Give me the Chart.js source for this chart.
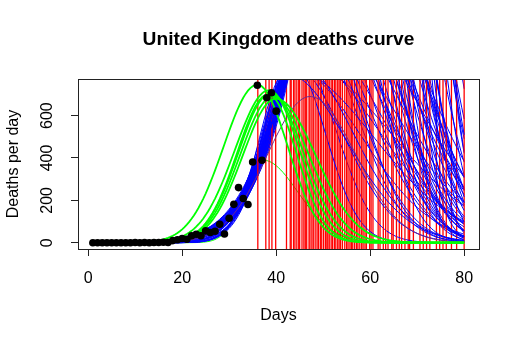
<!DOCTYPE html>
<html>
<head>
<meta charset="utf-8">
<script src="https://cdn.jsdelivr.net/npm/chart.js@4/dist/chart.umd.min.js"></script>
<style>html,body{margin:0;padding:0;background:#fff}canvas{display:block}</style>
</head>
<body>
<canvas id="c" width="520" height="347" style="width:520px;height:347px"></canvas>
<script>
// ---- observed data ----
const days = [1,2,3,4,5,6,7,8,9,10,11,12,13,14,15,16,17,18,19,20,21,22,23,24,25,26,27,28,29,30,31,32,33,34,35,36,37,38,39,40];
const deaths = [0,0,0,0,0,0,0,0,0,1,0,1,0,1,1,2,1,10,14,20,16,33,40,33,56,48,54,87,41,115,181,260,209,180,381,743,389,684,708,621];

// ---- axis ticks ----
const xTicks = [0,20,40,60,80];
const yTicks = [0,200,400,600];

// ---- peak days (red vertical lines) ----
const peakDays = [36.1,37.8,38.5,39.1,39.9,42.2,43.0,43.2,43.7,44.0,44.4,44.8,45.0,45.5,45.9,46.2,46.5,47.0,47.2,47.6,47.9,48.3,48.7,49.0,49.4,49.7,50.1,50.5,50.8,51.0,51.3,51.7,52.0,52.4,52.7,53.1,53.4,53.7,54.1,54.6,55.0,55.3,55.7,56.0,56.3,56.7,57.1,57.4,57.8,58.2,58.5,58.9,59.2,59.9,60.2,60.6,61.7,62.1,62.8,63.3,63.8,64.6,64.9,65.6,66.2,66.7,67.4,68.1,68.4,69.2,70.6,71.3,72.0,72.7,74.1,74.8,75.5,76.2,77.3,78.4,80.0];

// ---- fitted curves that peak early (green): height, peak day, rise width, fall width ----
const greenPeak    = [746,700,705,690,680,720];
const greenPeakDay = [36.0,38.3,38.8,39.3,39.9,38.5];
const greenRise    = [7.2,6.6,6.8,6.9,7.0,7.3];
const greenFall    = [6.5,6.0,7.0,7.6,8.5,6.5];

// thin green curve
const thinGreenPeak = [390], thinGreenPeakDay = [37.2], thinGreenRise = [4], thinGreenFall = [7.5];
// thin purple curve
const purplePeak = [690], purplePeakDay = [47.2], purpleRise = [9], purpleFall = [9.7];

// ---- fitted curves that peak later (blue): height, peak day, rise width, fall width ----
const bluePeak = [800,830,860,900,850,880,820,870,840, 1000,1050,1100,1150,1200,1300,1020,1120,1250,1000,1050,1100,1150,1200,1300, 1400,1450,1500,1600,1700,1800,1900,2000,1420,1550,1650,1750,1950,1480,1400,1500,1600,1700,1800,1900,1450,1550, 2200,2400,2600,2800,3000,3300,3600,3000,2300,2500,2700,3100,2200,2400,2600,2800,3000, 4000,4500,5000,6000,7000,8000,10000,12000,4200,5500,9000,15000];
const bluePeakDay = [41.9,43.1,44.3,44.3,43.5,44.7,42.8,44.0,43.3, 47.2,47.8,48.5,49.6,50.4,52.6,47.5,48.9,51.4,47.2,47.8,48.5,49.6,50.4,52.6, 52.5,53.2,53.6,54.7,55.0,56.2,57.6,58.0,52.8,54.2,55.1,55.8,57.7,53.4,52.5,53.6,54.7,55.0,56.2,57.6,53.2,54.2, 59.2,60.8,61.7,63.2,64.1,65.8,66.6,64.0,60.0,61.2,62.5,64.8,59.2,60.8,61.7,63.2,64.1, 68.3,69.9,71.5,74.0,76.3,77.9,81.2,84.9,69.0,72.8,79.6,88.0];
const blueRise = [5.55,6.0,6.42,7.0,6.32,6.49,5.9,6.4,6.2, 8.0,7.92,9.03,8.59,9.56,10.17,8.2,8.8,9.8,8.0,7.92,9.03,8.59,9.56,10.17, 10.42,10.28,10.61,10.59,11.22,11.3,11.36,12.14,10.3,10.7,10.9,11.1,11.9,10.4,10.42,10.61,10.59,11.22,11.3,11.36,10.28,10.7, 12.17,12.92,12.64,13.75,13.6,13.74,14.27,14.02,12.5,12.8,13.2,13.9,12.17,12.92,12.64,13.75,13.6, 14.65,15.29,15.17,16.01,16.74,16.63,17.57,18.08,15.0,15.6,17.3,18.8];
const blueFall = [13,15,12,17,7,8,18,20,11, 10,12,9.5,13,11,10,10.5,11.5,10.5,15,17,14,16,18,15, 12,10.5,13,11,9.5,12,8.5,10,11.5,10,12.5,10.5,11,9.5,15,16,14,13.5,8,7.5,8,8.5, 9,10,8,9,7.5,7,6.5,9.5,9.5,8.5,10,8,6.5,7,6,6.5,5.5, 8,8,9,9,9,9,9,9,8,9,9,9];

// ---- build ----
const curveDays = [];
for (let t = 1; t <= 80.0001; t += 0.5) curveDays.push(t);

function curve(A, mu, sL, sR) {
  return curveDays.map(t => {
    const s = t < mu ? sL : sR;
    return { x: t, y: A * Math.exp(-(t - mu) * (t - mu) / (2 * s * s)) };
  });
}
function lineDs(data, color, width) {
  return { type: 'line', data, borderColor: color, borderWidth: width, pointRadius: 0, pointHitRadius: 0, fill: false, tension: 0 };
}

const datasets = [];
// top-most first
datasets.push({
  type: 'line', data: days.map((d, i) => ({ x: d, y: deaths[i] })), showLine: false,
  pointRadius: 3.8, pointBackgroundColor: '#000', pointBorderWidth: 0, borderColor: '#000'
});
for (let i = 0; i < greenPeak.length; i++)
  datasets.push(lineDs(curve(greenPeak[i], greenPeakDay[i], greenRise[i], greenFall[i]), '#00ff00', 1.8));
datasets.push(lineDs(curve(purplePeak[0], purplePeakDay[0], purpleRise[0], purpleFall[0]), 'rgb(110,40,140)', 1));

const nMix = Math.max(bluePeak.length, peakDays.length);
for (let i = 0; i < nMix; i++) {
  if (i < peakDays.length) {
    const j = (i * 7) % peakDays.length;
    datasets.push(lineDs([{ x: peakDays[j], y: -100 }, { x: peakDays[j], y: 2000 }], '#ff0000', 1.3));
  }
  if (i < bluePeak.length) {
    const k = (i * 11) % bluePeak.length;
    datasets.push(lineDs(curve(bluePeak[k], bluePeakDay[k], blueRise[k], blueFall[k]), '#0000ff', 1));
  }
}
datasets.push(lineDs(curve(thinGreenPeak[0], thinGreenPeakDay[0], thinGreenRise[0], thinGreenFall[0]), '#00ff00', 1));

const framePlugin = {
  id: 'frame',
  afterDraw(chart) {
    const { ctx, chartArea: a } = chart;
    ctx.save();
    ctx.strokeStyle = '#222';
    ctx.lineWidth = 1;
    const l = Math.round(a.left), t = Math.round(a.top), r = Math.round(a.right), b = Math.round(a.bottom);
    ctx.strokeRect(l + 0.5, t + 0.5, r - l, b - t);
    ctx.restore();
  }
};

Chart.defaults.font.family = "'Liberation Sans', Arial, sans-serif";
Chart.defaults.color = '#000';

const tickGrid = { display: true, drawOnChartArea: false, drawTicks: true, tickLength: 7, color: '#222', lineWidth: 1 };

new Chart(document.getElementById('c'), {
  type: 'line',
  data: { datasets },
  options: {
    responsive: false,
    animation: false,
    devicePixelRatio: 1,
    events: [],
    layout: { padding: { left: 0, right: 41, top: 0, bottom: 0 } },
    plugins: {
      legend: { display: false },
      tooltip: { enabled: false },
      title: {
        display: true, text: 'United Kingdom deaths curve', color: '#000',
        font: { size: 19.2, weight: 'bold' }, padding: { top: 28.5, bottom: 27.46 }, fullSize: false
      }
    },
    scales: {
      x: {
        type: 'linear', position: 'bottom', min: -2.16, max: 83.16,
        afterBuildTicks: s => { s.ticks = xTicks.map(v => ({ value: v })); },
        afterFit: s => { s.height = 98; },
        ticks: { font: { size: 16 }, color: '#000', padding: 13.4, maxRotation: 0, autoSkip: false },
        grid: tickGrid,
        border: { display: false },
        title: { display: true, text: 'Days', font: { size: 16 }, color: '#000', padding: { top: 0, bottom: 21.4 } }
      },
      y: {
        type: 'linear', position: 'left', min: -29.72, max: 772.72,
        afterBuildTicks: s => { s.ticks = yTicks.map(v => ({ value: v })); },
        afterFit: s => { s.width = 78; },
        ticks: { font: { size: 16 }, color: '#000', padding: 9.65, minRotation: 90, maxRotation: 90, crossAlign: 'center', autoSkip: false },
        grid: tickGrid,
        border: { display: false },
        title: { display: true, text: 'Deaths per day', font: { size: 16 }, color: '#000', padding: { top: 4.4, bottom: 0 } }
      }
    }
  },
  plugins: [framePlugin]
});
</script>
</body>
</html>
